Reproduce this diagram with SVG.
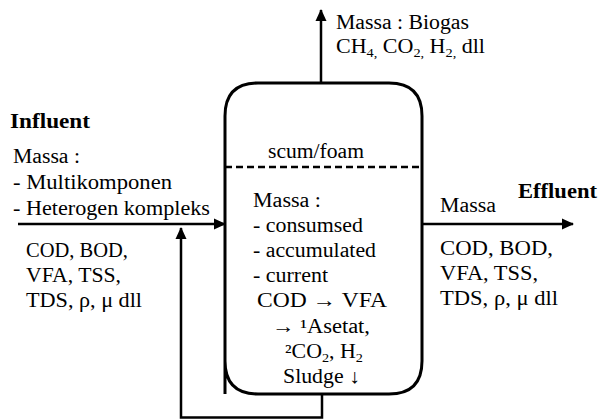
<svg xmlns="http://www.w3.org/2000/svg" width="598" height="419" viewBox="0 0 598 419">
<style>
text{font-family:'Liberation Serif','Times New Roman',serif;font-size:20px;fill:#000}
.b{font-weight:bold}
.sub{font-size:13px}
.ln{stroke:#000;stroke-width:2.5;fill:none}
</style>
<defs>
<marker id="ah" markerWidth="12" markerHeight="12" refX="11" refY="6" orient="auto" markerUnits="userSpaceOnUse">
<path d="M0,0.5 L12,6 L0,11.5 Z" fill="#000"/>
</marker>
</defs>
<g id="reactor">
<path d="M225,394 V116 Q225,83 258,83 H389 Q422,83 422,116 V361 Q422,394 389,394 H258 Q225,394 225,361 Z" fill="#fff" stroke="#000" stroke-width="3"/>
<line x1="225" y1="167" x2="422" y2="167" stroke="#000" stroke-width="2.5" stroke-dasharray="7,4"/>
<text x="268" y="158" textLength="96" lengthAdjust="spacingAndGlyphs">scum/foam</text>
<text x="253" y="207" textLength="68" lengthAdjust="spacingAndGlyphs">Massa :</text>
<text x="253" y="232" textLength="110" lengthAdjust="spacingAndGlyphs">- consumsed</text>
<text x="253" y="257" textLength="123" lengthAdjust="spacingAndGlyphs">- accumulated</text>
<text x="253" y="282" textLength="75" lengthAdjust="spacingAndGlyphs">- current</text>
<text x="257" y="307" textLength="130" lengthAdjust="spacingAndGlyphs">COD → VFA</text>
<text x="272" y="333" textLength="98" lengthAdjust="spacingAndGlyphs">→ ¹Asetat,</text>
<text x="285" y="358" textLength="78" lengthAdjust="spacingAndGlyphs">²CO<tspan class="sub" dy="4">2</tspan><tspan dy="-4">, H</tspan><tspan class="sub" dy="4">2</tspan></text>
<text x="283" y="383" textLength="77" lengthAdjust="spacingAndGlyphs">Sludge ↓</text>
</g>
<g id="influent">
<text x="10" y="128" class="b" textLength="80" lengthAdjust="spacingAndGlyphs">Influent</text>
<text x="13" y="163" textLength="67" lengthAdjust="spacingAndGlyphs">Massa :</text>
<text x="13" y="189" textLength="159" lengthAdjust="spacingAndGlyphs">- Multikomponen</text>
<text x="13" y="215" textLength="197" lengthAdjust="spacingAndGlyphs">- Heterogen kompleks</text>
<text x="26" y="257" textLength="102" lengthAdjust="spacingAndGlyphs">COD, BOD,</text>
<text x="26" y="282" textLength="95" lengthAdjust="spacingAndGlyphs">VFA, TSS,</text>
<text x="26" y="307" textLength="116" lengthAdjust="spacingAndGlyphs">TDS, ρ, μ dll</text>
</g>
<g id="effluent">
<text x="518" y="198" class="b" textLength="79" lengthAdjust="spacingAndGlyphs">Effluent</text>
<text x="440" y="212" textLength="56" lengthAdjust="spacingAndGlyphs">Massa</text>
<text x="440" y="255" textLength="113" lengthAdjust="spacingAndGlyphs">COD, BOD,</text>
<text x="440" y="280" textLength="98" lengthAdjust="spacingAndGlyphs">VFA, TSS,</text>
<text x="440" y="305" textLength="118" lengthAdjust="spacingAndGlyphs">TDS, ρ, μ dll</text>
</g>
<g id="biogas">
<text x="336" y="29" textLength="133" lengthAdjust="spacingAndGlyphs">Massa : Biogas</text>
<text x="336" y="53" textLength="149" lengthAdjust="spacingAndGlyphs">CH<tspan class="sub" dy="4">4,</tspan><tspan dy="-4"> CO</tspan><tspan class="sub" dy="4">2,</tspan><tspan dy="-4"> H</tspan><tspan class="sub" dy="4">2,</tspan><tspan dy="-4"> dll</tspan></text>
</g>
<g id="connectors">
<line class="ln" x1="18" y1="224" x2="225" y2="224" marker-end="url(#ah)"/>
<line class="ln" x1="422" y1="224" x2="573" y2="224" marker-end="url(#ah)"/>
<line class="ln" x1="321" y1="83" x2="321" y2="10" marker-end="url(#ah)"/>
<polyline class="ln" points="322,394 322,417.5 181,417.5 181,228" marker-end="url(#ah)"/>
</g>
</svg>
